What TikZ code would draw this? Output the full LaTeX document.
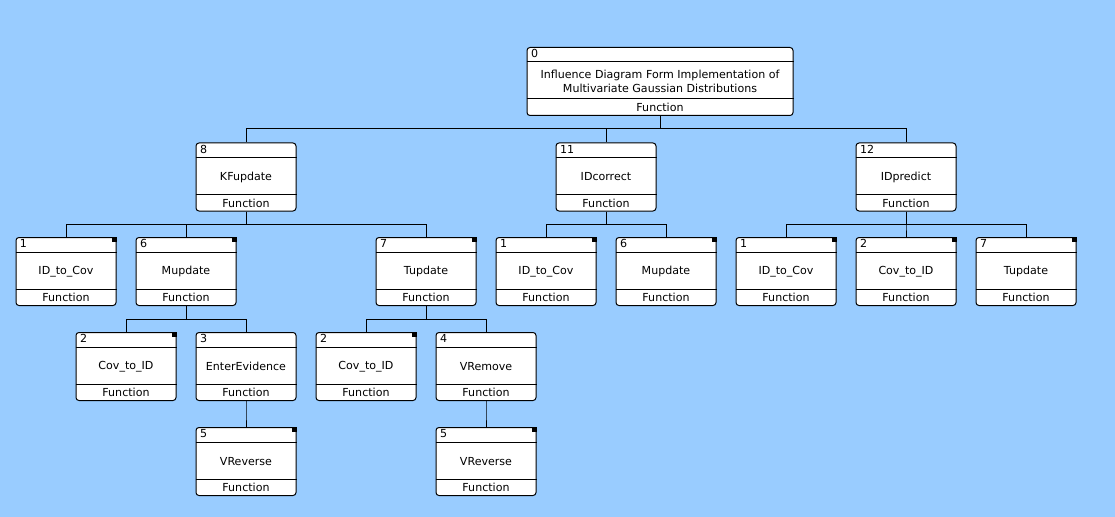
\documentclass[tikz,border=0pt]{standalone}
\usepackage{fontspec}
\setmainfont{DejaVu Sans}
\usetikzlibrary{calc}
\definecolor{canvas}{HTML}{99CCFF}
\tikzset{
	funcbox/.style={draw,fill=white,rounded corners=2.25pt,minimum width=75pt,
		minimum height=51pt,inner sep=0pt,align=center},
	tie/.style={draw,line width=0.75pt}
}
% box: [width] name, x, y, number, text
\newcommand\fnbox[6][75pt]{%
	\node[funcbox,minimum width=#1] (#2) at (#3,#4) {#6};
	\draw ($(#2.north west)+(0,15)$) -- ($(#2.north east)+(0,15)$);
	\draw ($(#2.south west)+(0,-17)$) -- ($(#2.south east)+(0,-17)$);
	\node[anchor=north west,inner sep=0pt] (#2-num) at ($(#2.north west)+(4,2)$) {#5};
	\node[inner sep=0pt] (#2-kind) at ($(#2.south)+(0,-8.5)$) {Function};
}
\newcommand\leafmark[1]{%
	\fill ($(#1.north east)+(-4.5,0)$) rectangle ($(#1.north east)+(0,4.5)$);
}
\begin{document}
\begin{tikzpicture}[x=0.75pt,y=-0.75pt,line width=0.75pt,font=\fontsize{8.3}{10}\selectfont]
	\fill[canvas] (0,0) rectangle (1115,517);
	% top
	\fnbox[199.5pt]{root}{660}{81.5}{0}{Influence Diagram Form Implementation of\\Multivariate Gaussian Distributions}
	% level 1
	\fnbox{kf}{246}{177}{8}{KFupdate}
	\fnbox{idc}{606}{177}{11}{IDcorrect}
	\fnbox{idp}{906}{177}{12}{IDpredict}
	% level 2
	\fnbox{idcov1}{66}{271.5}{1}{ID\_to\_Cov}
	\fnbox{mup1}{186}{271.5}{6}{Mupdate}
	\fnbox{tup1}{426}{271.5}{7}{Tupdate}
	\fnbox{idcov2}{546}{271.5}{1}{ID\_to\_Cov}
	\fnbox{mup2}{666}{271.5}{6}{Mupdate}
	\fnbox{idcov3}{786}{271.5}{1}{ID\_to\_Cov}
	\fnbox{covid3}{906}{271.5}{2}{Cov\_to\_ID}
	\fnbox{tup3}{1026}{271.5}{7}{Tupdate}
	% level 3
	\fnbox{covid1}{126}{366.5}{2}{Cov\_to\_ID}
	\fnbox{ee}{246}{366.5}{3}{EnterEvidence}
	\fnbox{covid2}{366}{366.5}{2}{Cov\_to\_ID}
	\fnbox{vrem}{486}{366.5}{4}{VRemove}
	% level 4
	\fnbox{vrev1}{246}{461.5}{5}{VReverse}
	\fnbox{vrev2}{486}{461.5}{5}{VReverse}
	\foreach \n in {idcov1,mup1,tup1,idcov2,mup2,idcov3,covid3,tup3,covid1,covid2,vrev1,vrev2}{
		\leafmark{\n}}
	\foreach \p/\c in {root/kf,root/idc,root/idp,kf/idcov1,kf/mup1,kf/tup1,idc/idcov2,idc/mup2,
		idp/idcov3,idp/covid3,idp/tup3,mup1/covid1,mup1/ee,tup1/covid2,tup1/vrem,ee/vrev1,vrem/vrev2}{
		\draw[tie] (\p.south) -- ++(0,13) -| (\c.north);}
\end{tikzpicture}
\end{document}
